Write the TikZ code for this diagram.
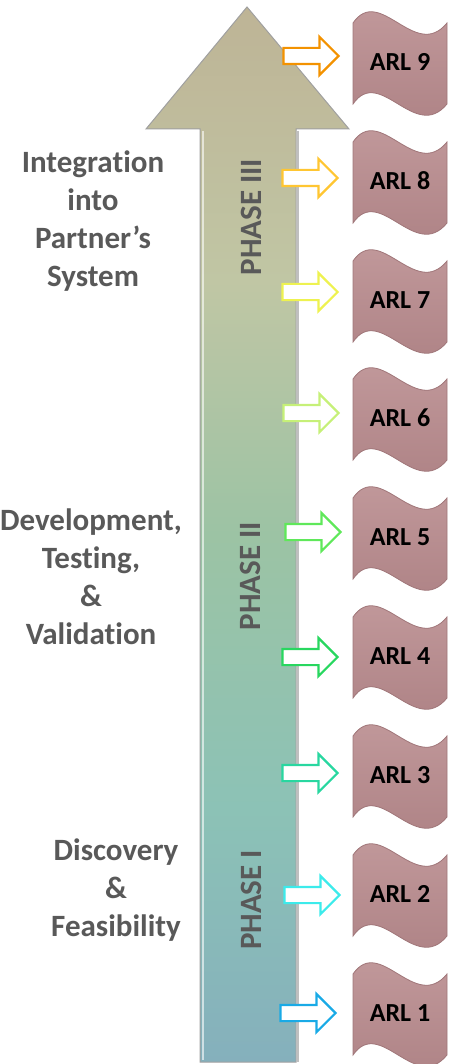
\documentclass[tikz,border=0pt]{standalone}
\usepackage{fontspec}
\setmainfont[Ligatures=NoCommon]{Carlito}
\usetikzlibrary{shapes.arrows}

\definecolor{labelgray}{RGB}{89,89,89}
\definecolor{shaftedge}{RGB}{160,160,160}
\definecolor{flagtop}{RGB}{196,156,158}
\definecolor{flagbot}{RGB}{172,128,131}
\definecolor{flagedge}{RGB}{160,118,121}
\definecolor{arr9}{RGB}{243,146,0}
\definecolor{arr8}{RGB}{255,198,50}
\definecolor{arr7}{RGB}{238,242,80}
\definecolor{arr6}{RGB}{198,240,120}
\definecolor{arr5}{RGB}{95,232,90}
\definecolor{arr4}{RGB}{40,215,95}
\definecolor{arr3}{RGB}{40,215,160}
\definecolor{arr2}{RGB}{60,235,235}
\definecolor{arr1}{RGB}{25,170,230}
\definecolor{shaftlow}{RGB}{133,176,188}
\definecolor{shaftteal}{RGB}{140,194,182}
\definecolor{shaftgreen}{RGB}{156,195,164}
\definecolor{shaftlight}{RGB}{192,198,164}
\definecolor{shafttop}{RGB}{190,180,150}

\pgfdeclareverticalshading{phaseshade}{100bp}{%
  color(0bp)=(shaftlow); color(25bp)=(shaftlow); color(37bp)=(shaftteal);
  color(50bp)=(shaftgreen); color(62bp)=(shaftlight); color(75bp)=(shafttop);
  color(100bp)=(shafttop)}

\tikzset{
  sidetext/.style={align=center,text=labelgray,font=\fontsize{31}{38}\selectfont\bfseries},
  phasetext/.style={rotate=90,text=labelgray,inner sep=0pt,font=\fontsize{31}{36}\selectfont\bfseries},
  arltext/.style={text=black,font=\fontsize{26}{30}\selectfont\bfseries},
  blockarr/.style={single arrow,draw=#1,fill=white,line width=2.2pt,
    minimum height=55pt,inner xsep=0pt,inner ysep=7pt,single arrow head extend=11pt},
  arlflag/.pic={
    \shade[top color=flagtop,bottom color=flagbot,draw=flagedge,line width=0.8pt]
      (-47,-39) .. controls (-20,-78) and (15,0) .. (47,-39)
      -- (47,42) .. controls (15,81) and (-20,3) .. (-47,42) -- cycle;
    \node[arltext] (-lbl) at (0,0) {#1};
  }
}

\begin{document}
\begin{tikzpicture}[x=1pt,y=-1pt]
    \useasboundingbox (0,0) rectangle (450,1064);
    % big arrow
    \shade[shading=phaseshade,draw=shaftedge,line width=1pt]
      (247,7) -- (349,129) -- (296,129) -- (296,1062) -- (200,1062) -- (200,129) -- (146,129) -- cycle;
    \draw[white,opacity=0.6,line width=2pt] (202.5,131) -- (202.5,1060);
    \draw[gray,opacity=0.5,line width=2pt] (297.5,131) -- (297.5,1062);
    \node[phasetext] (p3) at (251,217) {PHASE III};
    \node[phasetext] (p2) at (250,576) {PHASE II};
    \node[phasetext] (p1) at (251,900) {PHASE I};
    % phase names
    \node[sidetext] (s3) at (93,221) {Integration\\into\\Partner’s\\System};
    \node[sidetext] (s2) at (91,577) {Development,\\Testing,\\\&\\Validation};
    \node[sidetext] (s1) at (116,890) {Discovery\\\&\\Feasibility};
    % readiness levels
    \pic (f9) at (400,62) {arlflag={ARL 9}};
    \pic (f8) at (400,181) {arlflag={ARL 8}};
    \pic (f7) at (400,300) {arlflag={ARL 7}};
    \pic (f6) at (400,418) {arlflag={ARL 6}};
    \pic (f5) at (400,537) {arlflag={ARL 5}};
    \pic (f4) at (400,656) {arlflag={ARL 4}};
    \pic (f3) at (400,775) {arlflag={ARL 3}};
    \pic (f2) at (400,894) {arlflag={ARL 2}};
    \pic (f1) at (400,1013) {arlflag={ARL 1}};
    \node[blockarr=arr9] (a9) at (307,56) {};
    \node[blockarr=arr8] (a8) at (306,178) {};
    \node[blockarr=arr7] (a7) at (306,292) {};
    \node[blockarr=arr6] (a6) at (307,413) {};
    \node[blockarr=arr5] (a5) at (309,532) {};
    \node[blockarr=arr4] (a4) at (306,657) {};
    \node[blockarr=arr3] (a3) at (306,773) {};
    \node[blockarr=arr2] (a2) at (308,895) {};
    \node[blockarr=arr1] (a1) at (304,1013) {};
\end{tikzpicture}
\end{document}
